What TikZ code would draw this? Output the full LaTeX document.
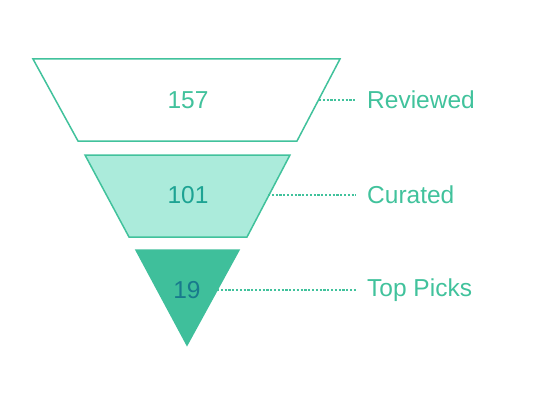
\documentclass[tikz,border=0pt]{standalone}
\usepackage{fontspec}
\setmainfont{Liberation Sans}
\usepackage{xcolor}
\usetikzlibrary{positioning}

\definecolor{funnelline}{HTML}{41C29C}
\definecolor{curatedfill}{HTML}{ABEBDB}
\definecolor{topfill}{HTML}{3FBF9B}
\definecolor{curatedtext}{HTML}{1DA393}
\definecolor{toptext}{HTML}{187A8C}

\begin{document}
\begin{tikzpicture}[
    x=1pt, y=-1pt,
    stage/.style={draw=funnelline, line width=1.5pt, line join=miter},
    count/.style={font=\fontsize{24.5}{24.5}\selectfont, inner sep=0pt},
    tag/.style={font=\fontsize{24.5}{24.5}\selectfont, text=funnelline, anchor=west, inner sep=0pt},
    leader/.style={draw=funnelline, line width=1.2pt, dash pattern=on 2.2pt off 1.6pt}
]
    \useasboundingbox (0,0) rectangle (535,401);

    % Reviewed stage
    \draw[stage, fill=white] (33,59) -- (340,59) -- (297,141) -- (78,141) -- cycle;
    \node[count, text=funnelline] (reviewed) at (188,100) {157};
    \coordinate (reviewededge) at (319,100);

    % Curated stage
    \draw[stage, fill=curatedfill] (85,155) -- (290,155) -- (247,237) -- (129,237) -- cycle;
    \node[count, text=curatedtext] (curated) at (188,195) {101};
    \coordinate (curatededge) at (268,195);

    % Top picks stage
    \draw[stage, fill=topfill, draw=topfill] (136,250) -- (239,250) -- (187,345) -- cycle;
    \node[count, text=toptext] (toppicks) at (187,290) {19};
    \coordinate (toppicksedge) at (217,290);

    % Labels
    \node[tag] (reviewedtag) at (367,100) {Reviewed};
    \node[tag] (curatedtag) at (367,195) {Curated};
    \node[tag] (toppickstag) at (367,290) {Top Picks};

    % Leaders
    \draw[leader] (reviewededge) -- ([xshift=-11pt]reviewedtag.west);
    \draw[leader] (curatededge) -- ([xshift=-11pt]curatedtag.west);
    \draw[leader] (toppicksedge) -- ([xshift=-11pt]toppickstag.west);
\end{tikzpicture}
\end{document}
